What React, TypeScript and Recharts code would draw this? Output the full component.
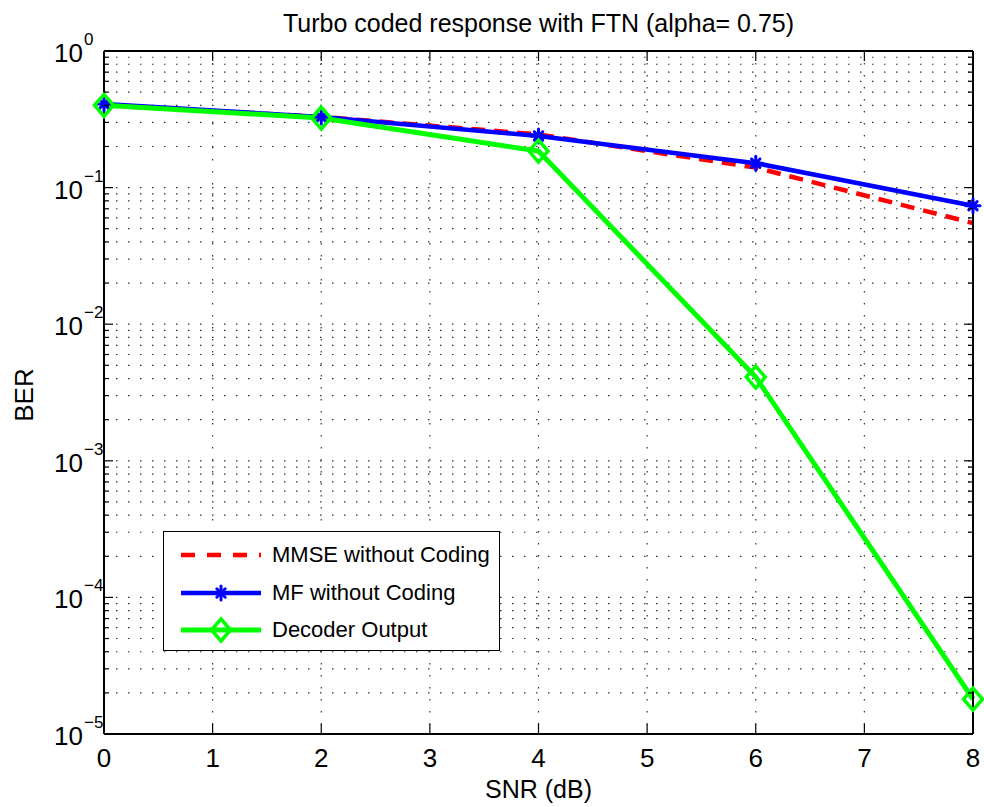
import React from "react";
import {
  LineChart,
  Line,
  XAxis,
  YAxis,
  CartesianGrid,
  Legend,
  Customized,
} from "recharts";

// SNR points (dB) and BER per curve
const snr = [0, 2, 4, 6, 8];
const mmseBer = [0.4, 0.33, 0.245, 0.14, 0.055];
const mfBer = [0.41, 0.329, 0.239, 0.151, 0.0737];
const decoderBer = [0.4, 0.323, 0.185, 0.0041, 0.000018];

const xTicks = [0, 1, 2, 3, 4, 5, 6, 7, 8];
const yDecades = [-5, -4, -3, -2, -1, 0];
const minorSteps = [1, 2, 3, 4, 5, 6, 7, 8, 9];

const title = "Turbo coded response with FTN (alpha= 0.75)";
const xLabel = "SNR (dB)";
const yLabel = "BER";
const seriesNames = ["MMSE without Coding", "MF without Coding", "Decoder Output"];

const W = 984;
const H = 807;
const LEFT = 104;
const RIGHT = 973;
const TOP = 51;
const BOTTOM = 734;
const FONT = "'Liberation Sans', Arial, Helvetica, sans-serif";

const yTicks: number[] = [];
yDecades.forEach((e) => {
  if (e === 0) {
    yTicks.push(1);
    return;
  }
  minorSteps.forEach((m) => yTicks.push(Number((m * Math.pow(10, e)).toPrecision(3))));
});

const data = snr.map((x, i) => ({
  snr: x,
  mmse: mmseBer[i],
  mf: mfBer[i],
  dec: decoderBer[i],
}));

const isDecade = (v: number) => {
  const l = Math.log10(v);
  return Math.abs(l - Math.round(l)) < 1e-6;
};

const LeftTick = (props: any) => {
  const { y, payload } = props;
  const v = payload.value;
  const major = isDecade(v);
  const exp = Math.round(Math.log10(v));
  return (
    <g>
      <line x1={LEFT} x2={LEFT + (major ? 9 : 5)} y1={y} y2={y} stroke="#000" strokeWidth={1.2} />
      {major && (
        <g fontFamily={FONT} fill="#000">
          <text x={83} y={y + 11} textAnchor="end" fontSize={26}>
            10
          </text>
          <text x={84} y={y - 6} textAnchor="start" fontSize={17}>
            {exp === 0 ? "0" : "\u2212" + Math.abs(exp)}
          </text>
        </g>
      )}
    </g>
  );
};

const RightTick = (props: any) => {
  const { y, payload } = props;
  const major = isDecade(payload.value);
  return (
    <line x1={RIGHT} x2={RIGHT - (major ? 9 : 5)} y1={y} y2={y} stroke="#000" strokeWidth={1.2} />
  );
};

const BottomTick = (props: any) => {
  const { x, payload } = props;
  return (
    <g>
      <line x1={x} x2={x} y1={BOTTOM} y2={BOTTOM - 10} stroke="#000" strokeWidth={1.2} />
      <text x={x} y={BOTTOM + 33} textAnchor="middle" fontSize={26} fontFamily={FONT} fill="#000">
        {payload.value}
      </text>
    </g>
  );
};

const TopTick = (props: any) => {
  const { x } = props;
  return <line x1={x} x2={x} y1={TOP} y2={TOP + 10} stroke="#000" strokeWidth={1.2} />;
};

const StarMarker = ({ cx, cy, size = 7 }: any) => (
  <g stroke="#0000ff" strokeWidth={3} strokeLinecap="round">
    <line x1={cx - size} x2={cx + size} y1={cy} y2={cy} />
    <line x1={cx} x2={cx} y1={cy - size} y2={cy + size} />
    <line x1={cx - size * 0.6} x2={cx + size * 0.6} y1={cy - size * 0.6} y2={cy + size * 0.6} />
    <line x1={cx - size * 0.6} x2={cx + size * 0.6} y1={cy + size * 0.6} y2={cy - size * 0.6} />
  </g>
);

const DiamondMarker = ({ cx, cy }: any) => (
  <path
    d={`M${cx},${cy - 11} L${cx + 9.5},${cy} L${cx},${cy + 11} L${cx - 9.5},${cy} Z`}
    fill="none"
    stroke="#00ff00"
    strokeWidth={3.5}
  />
);

const MfDot = (props: any) => <StarMarker key={`mf-${props.index}`} cx={props.cx} cy={props.cy} />;
const DecDot = (props: any) => <DiamondMarker key={`dec-${props.index}`} cx={props.cx} cy={props.cy} />;

const LegendBox = () => (
  <div
    style={{
      width: 337,
      height: 120,
      boxSizing: "border-box",
      border: "1.5px solid #000",
      background: "#fff",
      fontFamily: FONT,
      fontSize: 22,
      color: "#000",
      position: "relative",
    }}
  >
    <svg width={110} height={120} style={{ position: "absolute", left: 0, top: 0 }}>
      <line x1={17} x2={97} y1={23} y2={23} stroke="#ff0000" strokeWidth={4.5} strokeDasharray="14 12" />
      <line x1={17} x2={97} y1={61} y2={61} stroke="#0000ff" strokeWidth={4.5} />
      <StarMarker cx={57} cy={61} />
      <line x1={17} x2={97} y1={98} y2={98} stroke="#00ff00" strokeWidth={5} />
      <DiamondMarker cx={57} cy={98} />
    </svg>
    {seriesNames.map((name, i) => (
      <div
        key={name}
        style={{ position: "absolute", left: 108, top: [23, 61, 98][i] - 13, lineHeight: "26px", whiteSpace: "nowrap" }}
      >
        {name}
      </div>
    ))}
  </div>
);

const Texts = () => (
  <g fontFamily={FONT} fill="#000">
    <text x={(LEFT + RIGHT) / 2} y={32} textAnchor="middle" fontSize={25}>
      {title}
    </text>
    <text x={(LEFT + RIGHT) / 2} y={798} textAnchor="middle" fontSize={25}>
      {xLabel}
    </text>
    <text x={33} y={395} textAnchor="middle" fontSize={26} transform="rotate(-90 33 395)">
      {yLabel}
    </text>
  </g>
);

export default function App() {
  return (
    <div style={{ position: "absolute", left: 0, top: 0, width: W, height: H, background: "#fff" }}>
      <LineChart
        width={W}
        height={H}
        data={data}
        margin={{ top: TOP - 10, right: W - RIGHT - 10, bottom: H - BOTTOM - 60, left: LEFT - 60 }}
      >
        <CartesianGrid
          stroke="#333"
          strokeWidth={1.2}
          strokeDasharray="1.5 10.5"
          horizontalValues={yTicks}
          verticalValues={xTicks}
        />
        <XAxis
          dataKey="snr"
          type="number"
          domain={[0, 8]}
          ticks={xTicks}
          height={60}
          axisLine={{ stroke: "#000", strokeWidth: 2 }}
          tickLine={false}
          tick={<BottomTick />}
          interval={0}
        />
        <XAxis
          xAxisId="top"
          orientation="top"
          dataKey="snr"
          type="number"
          domain={[0, 8]}
          ticks={xTicks}
          height={10}
          axisLine={{ stroke: "#000", strokeWidth: 2 }}
          tickLine={false}
          tick={<TopTick />}
          interval={0}
        />
        <YAxis
          type="number"
          scale="log"
          domain={[1e-5, 1]}
          ticks={yTicks}
          width={60}
          allowDataOverflow
          axisLine={{ stroke: "#000", strokeWidth: 2 }}
          tickLine={false}
          tick={<LeftTick />}
          interval={0}
        />
        <YAxis
          yAxisId="right"
          orientation="right"
          type="number"
          scale="log"
          domain={[1e-5, 1]}
          ticks={yTicks}
          width={10}
          allowDataOverflow
          axisLine={{ stroke: "#000", strokeWidth: 2 }}
          tickLine={false}
          tick={<RightTick />}
          interval={0}
        />
        <Line
          dataKey="mmse"
          stroke="#ff0000"
          strokeWidth={4.5}
          strokeDasharray="14 9"
          dot={false}
          activeDot={false}
          isAnimationActive={false}
        />
        <Line
          dataKey="mf"
          stroke="#0000ff"
          strokeWidth={4.5}
          dot={<MfDot />}
          activeDot={false}
          isAnimationActive={false}
        />
        <Line
          dataKey="dec"
          stroke="#00ff00"
          strokeWidth={5}
          dot={<DecDot />}
          activeDot={false}
          isAnimationActive={false}
        />
        <Legend
          layout="vertical"
          align="center"
          verticalAlign="middle"
          content={<LegendBox />}
          wrapperStyle={{ left: 163, top: 531, width: 337, height: 120 }}
        />
        <Customized component={<Texts />} />
      </LineChart>
    </div>
  );
}
